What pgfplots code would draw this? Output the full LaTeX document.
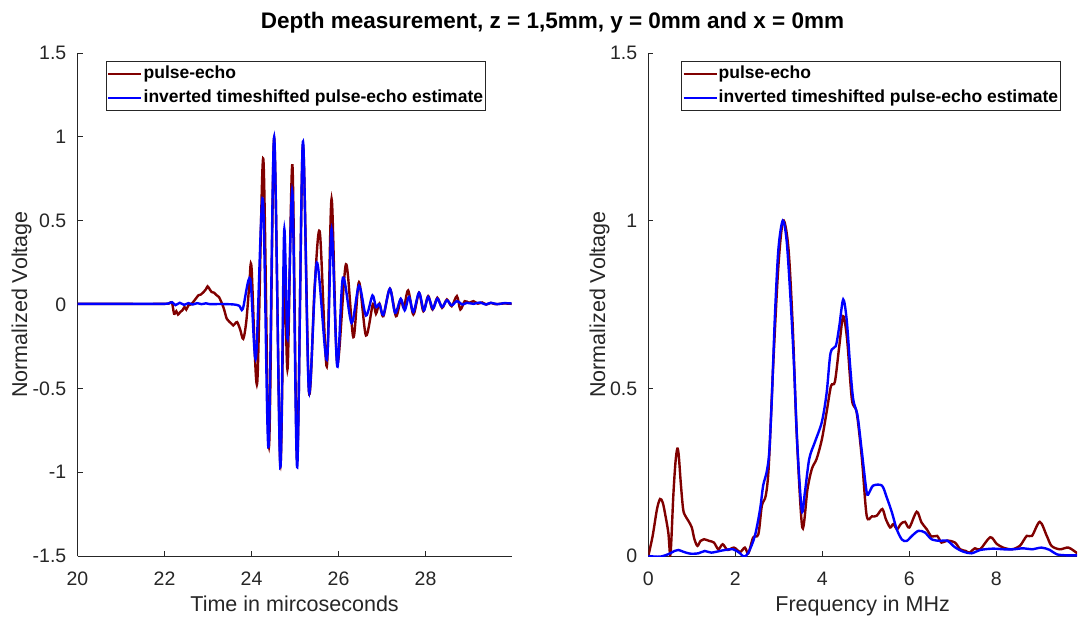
\documentclass[border=0pt]{standalone}
\usepackage{fontspec}
\setmainfont{Liberation Sans}
\usepackage{pgfplots}
\pgfplotsset{compat=1.18}
\definecolor{axgray}{rgb}{0.15,0.15,0.15}
\definecolor{pered}{rgb}{0.5,0,0}
\definecolor{estblue}{rgb}{0,0,1}
\pgfplotsset{
 myax/.style={
  scale only axis, anchor=south west,
  height=503pt,
  axis x line*=bottom, axis y line*=left,
  axis line style={axgray, line width=0.8pt},
  tick align=inside, major tick length=5pt,
  tick style={axgray, line width=0.8pt},
  ticklabel style={font=\fontsize{19.5}{23}\selectfont, text=axgray},
  xticklabel style={inner sep=0pt, anchor=north, yshift=-15.5pt},
  yticklabel style={inner sep=0pt, anchor=east, xshift=-11pt},
  every axis x label/.style={at={(axis description cs:0.5,-0.111)}, anchor=base, font=\fontsize{21.5}{25}\selectfont, text=axgray},
  legend cell align=left,
  legend image code/.code={\draw[#1] (0pt,0pt) -- (33pt,0pt);},
  legend style={font=\bfseries\fontsize{17.5}{20}\selectfont, draw=axgray, line width=0.6pt, fill=white,
    inner xsep=1pt, inner ysep=0.5pt, row sep=0pt,
    nodes={inner xsep=1pt, inner ysep=3.5pt, text height=13pt, text depth=4pt}},
 },
 pe/.style={pered, line width=2.4pt, smooth},
 est/.style={estblue, line width=2.4pt, smooth},
}
\begin{document}
\begin{tikzpicture}
\useasboundingbox (0pt,0pt) rectangle (1078pt,618pt);
\node[anchor=base, font=\bfseries\fontsize{22.5}{26}\selectfont] at (552.5pt,589pt) {Depth measurement, z = 1,5mm, y = 0mm and x = 0mm};
% ---------------- left: time signal
\begin{axis}[myax, at={(77.5pt,62pt)}, width=434.2pt,
  xmin=20, xmax=29.98, ymin=-1.5, ymax=1.5,
  xtick={20,22,24,26,28}, xticklabels={20,22,24,26,28},
  ytick={-1.5,-1,-0.5,0,0.5,1,1.5}, yticklabels={-1.5,-1,-0.5,0,0.5,1,1.5},
  xlabel={Time in mircoseconds}, ylabel={Normalized Voltage},
  every axis y label/.style={at={(axis description cs:-0.116,0.5)}, rotate=90, anchor=base, font=\fontsize{21.5}{25}\selectfont, text=axgray},
  legend style={at={(axis description cs:0.0656,0.984)}, anchor=north west},
]
\addplot[pe] coordinates {(20.0,0.004)(20.8,0.004)(21.5,0.003)(22.0,0.004)(22.1,0.006)(22.17,0.012)(22.22,-0.055)(22.27,-0.04)(22.31,-0.06)(22.36,-0.045)(22.41,-0.035)(22.46,-0.015)(22.5,-0.03)(22.55,-0.005)(22.6,0.0)(22.66,0.015)(22.72,0.035)(22.78,0.055)(22.84,0.06)(22.90,0.075)(22.95,0.09)(22.99,0.108)(23.04,0.09)(23.08,0.075)(23.14,0.07)(23.2,0.055)(23.25,0.045)(23.29,0.024)(23.33,0.0)(23.37,-0.03)(23.43,-0.085)(23.48,-0.1)(23.54,-0.115)(23.58,-0.125)(23.62,-0.115)(23.67,-0.105)(23.74,-0.15)(23.81,-0.205)(23.88,-0.1)(23.95,0.12)(24.0,0.22)(24.13,-0.47)(24.27,0.87)(24.40,-0.85)(24.52,0.99)(24.66,-0.95)(24.75,0.2)(24.83,-0.38)(24.94,0.83)(25.05,-0.93)(25.18,0.95)(25.32,-0.52)(25.45,0.1)(25.57,0.43)(25.73,-0.37)(25.84,0.63)(25.97,-0.35)(26.17,0.24)(26.34,-0.195)(26.47,0.133)(26.63,-0.185)(26.79,0.004)(26.86,-0.055)(26.94,0.005)(27.03,-0.07)(27.18,0.094)(27.32,-0.07)(27.43,0.03)(27.5,-0.02)(27.6,0.084)(27.72,-0.06)(27.85,0.07)(27.95,-0.04)(28.06,0.05)(28.16,-0.03)(28.27,0.04)(28.38,-0.02)(28.49,0.03)(28.6,-0.01)(28.72,0.05)(28.8,-0.03)(28.9,0.02)(29.0,0.01)(29.1,0.02)(29.2,0.005)(29.3,0.012)(29.4,0.0)(29.5,0.01)(29.6,0.002)(29.8,0.006)(29.98,0.004)};
\addlegendentry{pulse-echo}
\addplot[est] coordinates {(20,0.004)(21,0.004)(22,0.004)(22.17,0.014)(22.25,-0.004)(22.35,0.01)(22.45,-0.002)(22.55,0.008)(22.65,0.0)(22.75,0.008)(22.85,0.002)(22.95,0.007)(23.05,0.002)(23.3,0.003)(23.6,0.0)(23.72,-0.008)(23.80,-0.026)(23.97,0.153)(24.10,-0.32)(24.26,0.63)(24.39,-0.85)(24.52,1.0)(24.66,-0.97)(24.75,0.44)(24.83,-0.205)(24.94,0.67)(25.05,-0.97)(25.18,0.97)(25.32,-0.52)(25.50,0.25)(25.73,-0.33)(25.84,0.45)(25.97,-0.37)(26.10,0.16)(26.30,-0.11)(26.47,0.113)(26.63,-0.066)(26.78,0.054)(26.86,-0.016)(26.94,0.003)(27.03,-0.062)(27.18,0.094)(27.30,-0.05)(27.43,0.034)(27.52,-0.035)(27.62,0.045)(27.72,-0.045)(27.85,0.07)(27.96,-0.035)(28.06,0.045)(28.17,-0.025)(28.27,0.035)(28.38,-0.015)(28.49,0.025)(28.6,-0.005)(28.72,0.02)(28.85,0.0)(28.95,0.01)(29.1,0.004)(29.25,0.012)(29.38,0.0)(29.5,0.01)(29.65,0.002)(29.8,0.008)(29.98,0.006)};
\addlegendentry{inverted timeshifted pulse-echo estimate}
\end{axis}
% ---------------- right: spectrum
\begin{axis}[myax, at={(648.3pt,62pt)}, width=428.7pt,
  xmin=0, xmax=9.855, ymin=0, ymax=1.5,
  xtick={0,2,4,6,8}, xticklabels={0,2,4,6,8},
  ytick={0,0.5,1,1.5}, yticklabels={0,0.5,1,1.5},
  xlabel={Frequency in MHz}, ylabel={Normalized Voltage},
  every axis y label/.style={at={(axis description cs:-0.101,0.5)}, rotate=90, anchor=base, font=\fontsize{21.5}{25}\selectfont, text=axgray},
  legend style={at={(axis description cs:0.0763,0.984)}, anchor=north west},
]
\addplot[pe] coordinates {(0,0)(0.1,0.06)(0.2,0.14)(0.27,0.17)(0.33,0.16)(0.38,0.13)(0.46,0.07)(0.51,0.005)(0.575,0.18)(0.625,0.28)(0.667,0.32)(0.70,0.30)(0.745,0.22)(0.80,0.14)(0.85,0.12)(0.92,0.105)(1.0,0.085)(1.06,0.05)(1.13,0.03)(1.2,0.045)(1.28,0.05)(1.4,0.045)(1.51,0.04)(1.61,0.02)(1.71,0.035)(1.82,0.018)(1.97,0.025)(2.11,0.012)(2.22,0.025)(2.30,0.008)(2.41,0.055)(2.53,0.065)(2.61,0.15)(2.70,0.18)(2.77,0.27)(2.87,0.566)(2.99,0.864)(3.10,1.0)(3.22,0.92)(3.32,0.685)(3.41,0.368)(3.54,0.085)(3.66,0.2)(3.76,0.26)(3.87,0.29)(3.99,0.348)(4.10,0.43)(4.20,0.507)(4.29,0.52)(4.39,0.626)(4.48,0.715)(4.57,0.646)(4.68,0.467)(4.79,0.428)(4.91,0.29)(5.02,0.12)(5.14,0.118)(5.25,0.12)(5.38,0.14)(5.46,0.11)(5.56,0.085)(5.63,0.095)(5.72,0.08)(5.80,0.095)(5.90,0.102)(6.0,0.085)(6.17,0.132)(6.28,0.1)(6.40,0.08)(6.51,0.058)(6.64,0.06)(6.74,0.04)(6.87,0.046)(7.05,0.04)(7.17,0.02)(7.30,0.015)(7.38,0.01)(7.51,0.023)(7.63,0.02)(7.86,0.056)(8.01,0.036)(8.16,0.025)(8.35,0.02)(8.54,0.03)(8.70,0.06)(8.82,0.06)(9.00,0.102)(9.16,0.06)(9.27,0.03)(9.46,0.02)(9.66,0.025)(9.86,0.008)};
\addlegendentry{pulse-echo}
\addplot[est] coordinates {(0,0)(0.27,-0.002)(0.49,0.007)(0.60,0.015)(0.69,0.018)(0.8,0.013)(0.96,0.007)(1.15,0.008)(1.30,0.015)(1.45,0.01)(1.72,0.017)(1.95,0.02)(2.11,0.008)(2.20,-0.002)(2.30,0.01)(2.45,0.06)(2.57,0.14)(2.64,0.21)(2.72,0.25)(2.78,0.31)(2.84,0.47)(2.91,0.715)(2.99,0.914)(3.09,1.0)(3.18,0.94)(3.27,0.765)(3.35,0.566)(3.43,0.32)(3.53,0.135)(3.60,0.19)(3.70,0.29)(3.83,0.34)(3.99,0.40)(4.10,0.487)(4.19,0.606)(4.31,0.626)(4.39,0.685)(4.48,0.765)(4.56,0.705)(4.64,0.566)(4.71,0.467)(4.81,0.418)(4.91,0.31)(5.02,0.19)(5.08,0.19)(5.17,0.21)(5.37,0.21)(5.48,0.175)(5.60,0.13)(5.71,0.08)(5.83,0.049)(5.94,0.045)(6.06,0.06)(6.21,0.075)(6.36,0.07)(6.51,0.05)(6.71,0.045)(6.87,0.046)(7.05,0.026)(7.24,0.013)(7.43,0.008)(7.63,0.018)(7.93,0.022)(8.16,0.02)(8.39,0.02)(8.62,0.023)(8.82,0.02)(9.04,0.025)(9.23,0.018)(9.39,0.005)(9.62,0.002)(9.86,0.002)};
\addlegendentry{inverted timeshifted pulse-echo estimate}
\end{axis}
\end{tikzpicture}
\end{document}
